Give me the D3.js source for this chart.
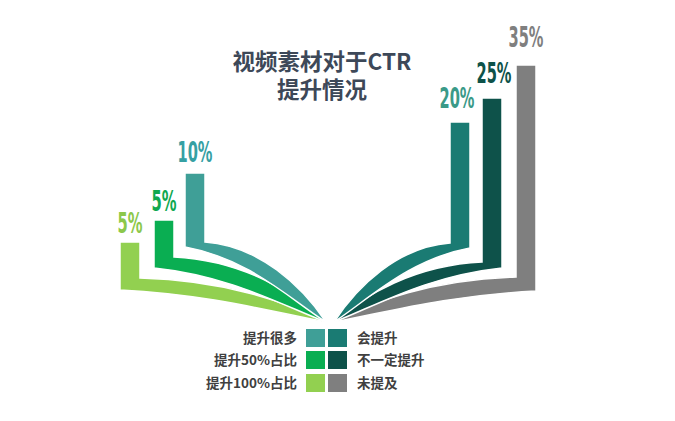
<!DOCTYPE html>
<html>
<head>
<meta charset="utf-8">
<script src="https://cdn.jsdelivr.net/npm/d3@7"></script>
<style>
  body { margin: 0; background: #fff; }
  #chart { position: relative; width: 675px; height: 421px; }
  text { font-family: "Noto Sans CJK SC", "Noto Sans", sans-serif; }
  .pct { font-family: "Liberation Sans Narrow", "DejaVu Sans Condensed", sans-serif; font-weight: bold; }
  .title { position: absolute; left: 222px; top: 46px; width: 200px; text-align: center;
    font-family: "Noto Sans CJK SC", sans-serif; font-size: 22.5px; font-weight: bold;
    line-height: 28px; color: #3d4858; white-space: pre-line; }
</style>
</head>
<body>
<div id="chart"></div>
<script>
// data
var leftCats = ['提升100%占比', '提升50%占比', '提升很多']
var leftValues = [5, 5, 10]
var leftColors = ['#92d050', '#0aae52', '#3f9f97']
var rightCats = ['会提升', '不一定提升', '未提及']
var rightValues = [20, 25, 35]
var rightColors = ['#1a7b73', '#0e524a', '#7f7f7f']
var titleLines = ['视频素材对于CTR', '提升情况']

var width = 675
var height = 421

var svg = d3.select('#chart').append('svg')
	.attr('width', width)
	.attr('height', height)

// bar length from the band bottom up
var hScale = d3.scaleLinear()
	.domain([0, 20, 25, 35])
	.range([22, 126, 170, 226])

var barW = 20
var leftBars = leftValues.map(function(v, i) {
	return { side: -1, cat: leftCats[i], value: v, color: leftColors[i],
		x0: [120, 154, 185][i], yB: [290, 268, 247][i], t: [12, 11, 5][i], ldx: 0 }
})
var rightBars = rightValues.map(function(v, i) {
	return { side: 1, cat: rightCats[i], value: v, color: rightColors[i],
		x0: [450, 482, 516][i], yB: [248, 268, 291][i], t: [5, 6, 14][i], ldx: [-3, 2, 0][i] }
})

function bookPath(d) {
	var top = d.yB - hScale(d.value)
	var C = d.side < 0 ? [326, 322] : [334, 322]
	var O, I
	if (d.side < 0) {
		O = [d.x0, d.yB]
		I = [d.x0 + barW, d.yB - d.t]
	} else {
		O = [d.x0 + barW, d.yB]
		I = [d.x0, d.yB - d.t]
	}
	var p = d3.path()
	var dxI = C[0] - I[0], dyI = C[1] - I[1]
	var dxO = C[0] - O[0], dyO = C[1] - O[1]
	p.moveTo(d.x0, top)
	p.lineTo(d.x0 + barW, top)
	if (d.side < 0) {
		p.lineTo(I[0], I[1])
	} else {
		p.lineTo(O[0], O[1])
	}
	var inner = [I[0] + 0.45 * dxI, I[1] + 0.05 * dyI, C[0] - 0.2 * dxI, C[1] - 0.45 * dyI]
	var outer = [O[0] + 0.45 * dxO, O[1] + 0.15 * dyO, C[0] - 0.25 * dxO, C[1] - 0.3 * dyO]
	if (d.side < 0) {
		p.bezierCurveTo(inner[0], inner[1], inner[2], inner[3], C[0], C[1])
		p.bezierCurveTo(outer[2], outer[3], outer[0], outer[1], O[0], O[1])
	} else {
		p.bezierCurveTo(outer[0], outer[1], outer[2], outer[3], C[0], C[1])
		p.bezierCurveTo(inner[2], inner[3], inner[0], inner[1], I[0], I[1])
	}
	p.closePath()
	return p.toString()
}

// outer bands first so the inner ones sit on top
var drawOrder = [leftBars[0], leftBars[1], leftBars[2], rightBars[2], rightBars[1], rightBars[0]]

svg.append('g').selectAll('path')
	.data(drawOrder)
	.enter().append('path')
	.attr('d', bookPath)
	.attr('fill', function(d) { return d.color })
	.attr('stroke', '#fff')
	.attr('stroke-width', 1.5)

var labelColors = { '提升100%占比': '#8cc84b', '提升50%占比': '#10a84f', '提升很多': '#36a0a3',
	'会提升': '#3a9a88', '不一定提升': '#0e5249', '未提及': '#7f7f7f' }

svg.append('g').selectAll('text')
	.data(drawOrder)
	.enter().append('text')
	.attr('class', 'pct')
	.attr('x', function(d) { return d.x0 + barW / 2 + d.ldx })
	.attr('y', function(d) { return d.yB - hScale(d.value) - (8 + d.value * 0.3) })
	.attr('text-anchor', 'middle')
	.attr('font-size', 28)
	.attr('textLength', function(d) { return d.value < 10 ? 25 : 35 })
	.attr('lengthAdjust', 'spacingAndGlyphs')
	.attr('fill', function(d) { return labelColors[d.cat] })
	.text(function(d) { return d.value + '%' })

// title as one html block, two lines with a tight line height
d3.select('#chart').append('div')
	.attr('class', 'title')
	.text(titleLines.join('\n'))

// legend
var legendRows = leftBars.slice().reverse().map(function(d, i) {
	return { left: d, right: rightBars[i] }
})
var legend = svg.append('g')
var rowY = [329, 351, 374]
legendRows.forEach(function(r, i) {
	var g = legend.append('g').attr('transform', 'translate(0,' + rowY[i] + ')')
	g.append('rect').attr('x', 306).attr('width', 19).attr('height', 18).attr('fill', r.left.color)
	g.append('rect').attr('x', 328).attr('width', 19).attr('height', 18).attr('fill', r.right.color)
	g.append('text').attr('x', 297).attr('y', 14).attr('text-anchor', 'end')
		.attr('font-size', 13.5).attr('font-weight', 'bold').attr('fill', '#404040')
		.text(r.left.cat)
	g.append('text').attr('x', 357).attr('y', 14)
		.attr('font-size', 13.5).attr('font-weight', 'bold').attr('fill', '#404040')
		.text(r.right.cat)
})
</script>
</body>
</html>
